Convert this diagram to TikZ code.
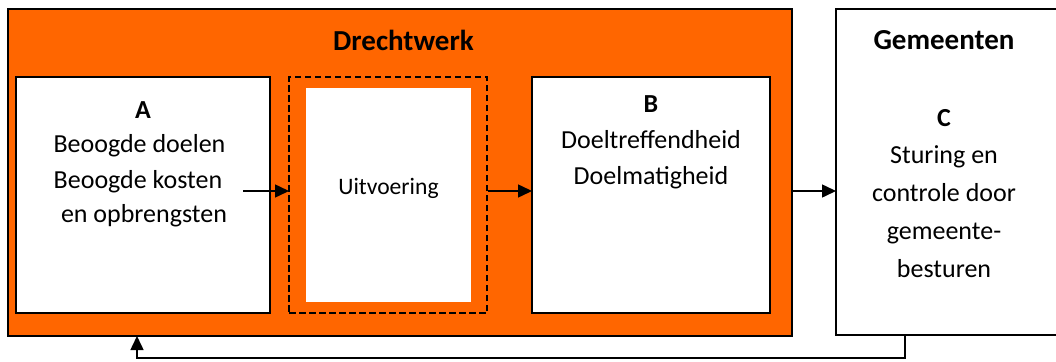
\documentclass[tikz,border=0pt]{standalone}
\usepackage{fontspec}
\setmainfont{Carlito}
\usetikzlibrary{arrows.meta}
\definecolor{orng}{HTML}{FF6600}
\begin{document}
\begin{tikzpicture}[x=1pt,y=-1pt,
  boxline/.style={draw=black,line width=1.6pt,inner sep=0pt,outer sep=0pt,anchor=north west},
  dashbox/.style={draw=black,line width=1.6pt,dash pattern=on 6.5pt off 3.5pt,inner sep=0pt,outer sep=0pt,anchor=north west},
  txt/.style={anchor=base,inner sep=0pt,font=\fontsize{26}{30}\selectfont},
  btxt/.style={txt,font=\fontsize{29}{33}\selectfont\bfseries},
  ltxt/.style={txt,font=\fontsize{26}{30}\selectfont\bfseries},
  stxt/.style={anchor=base,inner sep=0pt,font=\fontsize{23.6}{28}\selectfont},
  conn/.style={line width=1.5pt,-{Triangle[length=14pt,width=13pt]}}]
\useasboundingbox (0,0) rectangle (1056,361);
\clip (0,0) rectangle (1056,361);
\fill[white] (0,0) rectangle (1056,361);
% boxes
\node[boxline,fill=orng,minimum width=784pt,minimum height=327pt] (org) at (8,9) {};
\node[boxline,fill=white,minimum width=254pt,minimum height=236pt] (boxA) at (16,77) {};
\node[dashbox,minimum width=198pt,minimum height=236pt] (dash) at (289,77) {};
\node[fill=white,inner sep=0pt,outer sep=0pt,anchor=north west,minimum width=165pt,minimum height=214pt] (uit) at (306,88) {};
\node[boxline,fill=white,minimum width=238pt,minimum height=236pt] (boxB) at (532,77) {};
\node[boxline,fill=white,minimum width=240pt,minimum height=326pt] (boxC) at (836,9) {};
% texts
\node[btxt] (tD) at (403.5,50) {Drechtwerk};
\node[ltxt] (tA) at (143,118) {A};
\node[txt] (tA1) at (139.5,152) {Beoogde doelen};
\node[txt] (tA2) at (138,188) {Beoogde kosten};
\node[txt] (tA3) at (144,222) {en opbrengsten};
\node[stxt] (tU) at (388.5,194) {Uitvoering};
\node[ltxt] (tB) at (651,112) {B};
\node[txt] (tB1) at (651,148) {Doeltreffendheid};
\node[txt] (tB2) at (651,184) {Doelmatigheid};
\node[btxt] (tG) at (944,49) {Gemeenten};
\node[ltxt] (tC) at (944,126) {C};
\node[txt] (tC1) at (944,163) {Sturing en};
\node[txt] (tC2) at (944,201) {controle door};
\node[txt] (tC3) at (944,239) {gemeente-};
\node[txt] (tC4) at (944,277) {besturen};
% connectors
\coordinate (a1) at (243,191);
\coordinate (d1) at (488,191);
\coordinate (o1) at (792,191);
\coordinate (f1) at (905,358);
\coordinate (f2) at (137,358);
\draw[conn] (a1) -- (a1 -| dash.west);
\draw[conn] (d1) -- (d1 -| boxB.west);
\draw[conn] (o1) -- (o1 -| boxC.west);
\draw[conn] (f1 |- boxC.south) -- (f1) -- (f2) -- (f2 |- org.south);
\end{tikzpicture}
\end{document}
